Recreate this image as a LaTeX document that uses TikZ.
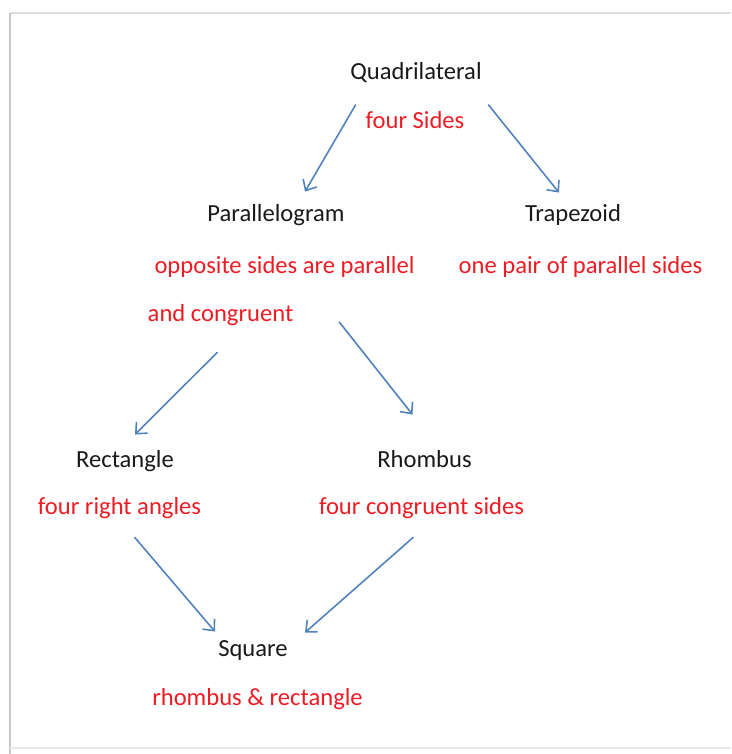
\documentclass[tikz,border=0pt]{standalone}
\usepackage{fontspec}
\setmainfont{Carlito}
\usetikzlibrary{arrows.meta,calc}
\definecolor{arrowblue}{RGB}{79,129,189}
\definecolor{notered}{RGB}{237,28,36}
\definecolor{framegray}{RGB}{200,200,200}

\begin{document}
\begin{tikzpicture}[x=0.02cm,y=-0.02cm]
		\tikzstyle{figname}=[text=black!90, font=\fontsize{14pt}{17pt}\selectfont, inner sep=2pt, text height=10pt, text depth=3pt, anchor=base]
		\tikzstyle{figprop}=[figname, text=notered]
		\tikzstyle{link}=[->, >={Straight Barb[length=5pt,width=9pt]}, arrowblue, line width=0.9pt]

		\useasboundingbox (0,0) rectangle (731,754);
		%frame
		\draw[framegray!60, line width=1pt] (10,13) -- (731,13);
		\draw[framegray, line width=1.2pt] (10,13) -- (10,754);
		\draw[framegray!40, line width=0.8pt] (10,748) -- (731,748);

		%quadrilateral
		\node[figname] (quad) at (416,79) {Quadrilateral};
		\node[figprop] (quadtxt) at (415,128) {four Sides};
		%parallelogram and trapezoid
		\node[figname] (para) at (276,221) {Parallelogram};
		\node[figprop] (paratxt) at (284.5,273) {opposite sides are parallel};
		\node[figprop] (paratxtb) at (220.5,321) {and congruent};
		\node[figname] (trap) at (573,221) {Trapezoid};
		\node[figprop] (traptxt) at (580.5,273) {one pair of parallel sides};
		%rectangle and rhombus
		\node[figname] (rect) at (125,467) {Rectangle};
		\node[figprop] (recttxt) at (119.5,514) {four right angles};
		\node[figname] (rhomb) at (424.5,467) {Rhombus};
		\node[figprop] (rhombtxt) at (421.5,514) {four congruent sides};
		%square
		\node[figname] (sq) at (253,656) {Square};
		\node[figprop] (sqtxt) at (257.5,705) {rhombus \& rectangle};

		%arrows
		\draw[link] ($(quadtxt.north west)+(-6,-2)$) -- ($(para.north)+(29,-8)$);
		\draw[link] ($(quadtxt.north east)+(20,-2)$) -- ($(trap.north)+(-14,-7)$);
		\draw[link] ($(paratxtb.south)+(-3,22)$) -- ($(rect.north)+(10,-11)$);
		\draw[link] ($(paratxtb.east)+(42,7)$) -- ($(rhomb.north)+(-12,-31)$);
		\draw[link] ($(recttxt.south)+(15,14)$) -- ($(sq.north)+(-38,-3)$);
		\draw[link] ($(rhombtxt.south)+(-8,14)$) -- ($(sq.north)+(52,-2)$);
	\end{tikzpicture}
\end{document}
